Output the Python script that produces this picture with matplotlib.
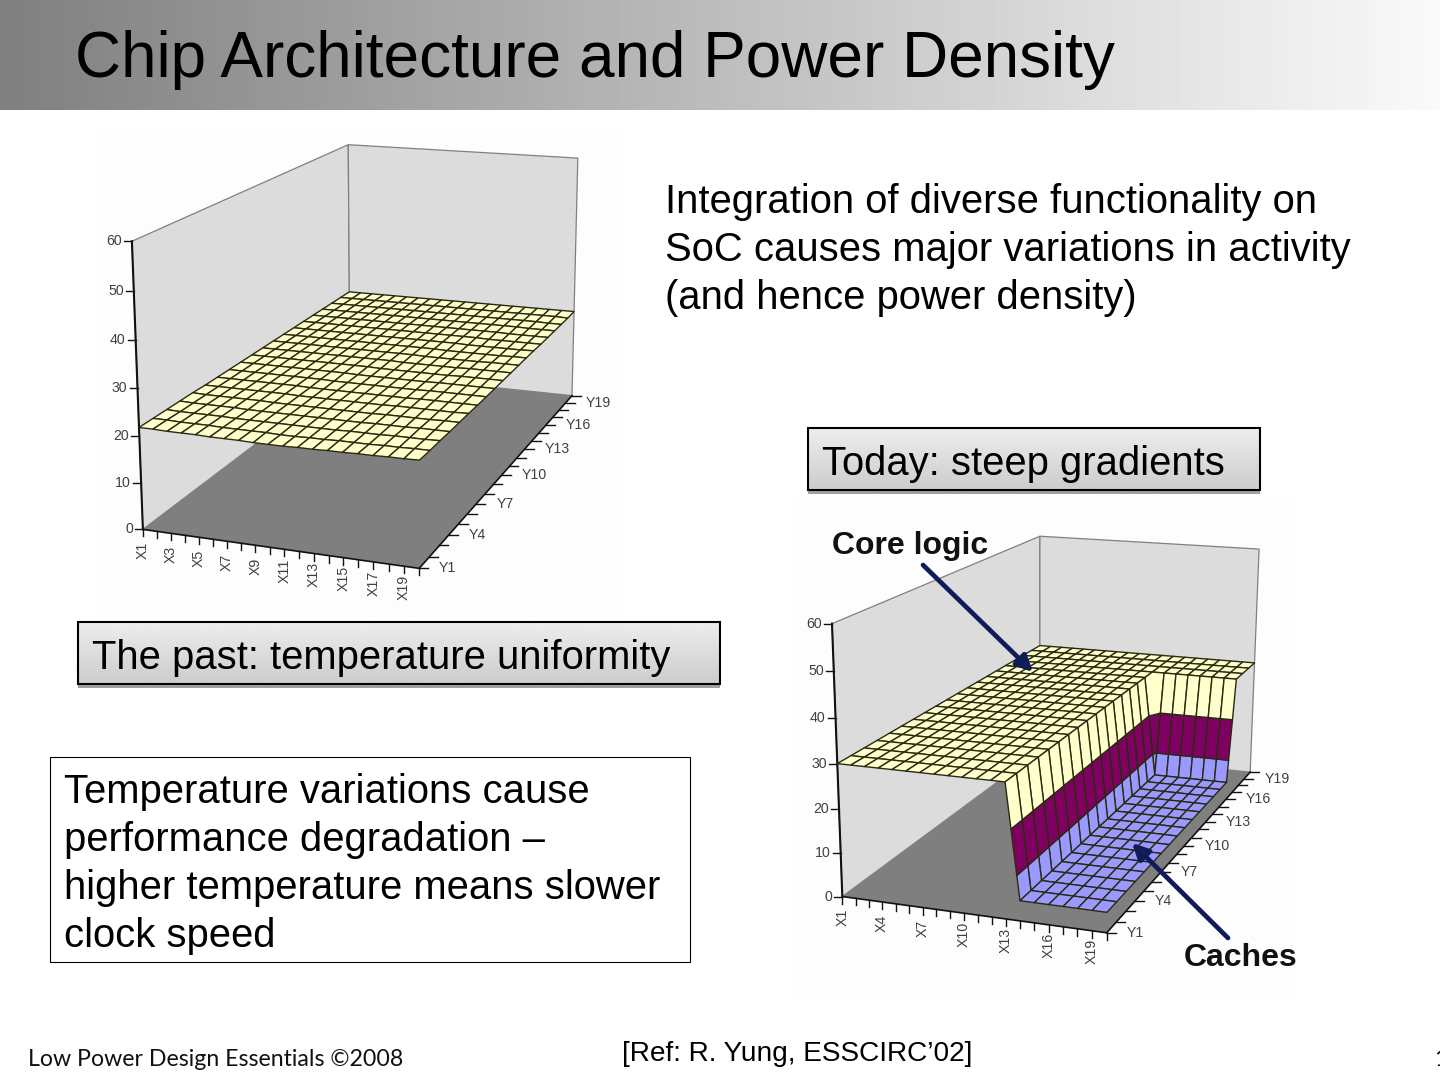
import numpy as np
import matplotlib
matplotlib.use('Agg')
from matplotlib import pyplot as plt
from matplotlib.collections import PolyCollection
from matplotlib.patches import FancyArrowPatch, Rectangle

plt.rcParams['font.family'] = ['Liberation Sans', 'DejaVu Sans']

# surface heights, one row per Y1..Y20, X1..X20 across
past_z = [
    [21.8, 21.8, 21.7, 21.7, 21.7, 21.6, 21.6, 21.6, 21.5, 21.5, 21.5, 21.6, 21.6, 21.7, 21.7, 21.8, 21.8, 21.9, 21.9, 22.0],
    [21.8, 21.8, 21.7, 21.7, 21.7, 21.6, 21.6, 21.6, 21.6, 21.5, 21.5, 21.6, 21.6, 21.7, 21.7, 21.7, 21.8, 21.8, 21.9, 21.9],
    [21.8, 21.7, 21.7, 21.7, 21.7, 21.6, 21.6, 21.6, 21.6, 21.6, 21.6, 21.6, 21.6, 21.7, 21.7, 21.7, 21.8, 21.8, 21.8, 21.9],
    [21.8, 21.7, 21.7, 21.7, 21.7, 21.6, 21.6, 21.6, 21.6, 21.6, 21.6, 21.6, 21.6, 21.6, 21.7, 21.7, 21.7, 21.8, 21.8, 21.8],
    [21.8, 21.7, 21.7, 21.7, 21.7, 21.7, 21.6, 21.6, 21.6, 21.6, 21.6, 21.6, 21.6, 21.6, 21.7, 21.7, 21.7, 21.7, 21.8, 21.8],
    [21.7, 21.7, 21.7, 21.7, 21.7, 21.7, 21.7, 21.6, 21.6, 21.6, 21.6, 21.6, 21.6, 21.6, 21.7, 21.7, 21.7, 21.7, 21.7, 21.8],
    [21.7, 21.7, 21.7, 21.7, 21.7, 21.7, 21.7, 21.6, 21.6, 21.6, 21.6, 21.6, 21.6, 21.6, 21.6, 21.7, 21.7, 21.7, 21.7, 21.7],
    [21.7, 21.7, 21.7, 21.7, 21.7, 21.7, 21.7, 21.7, 21.6, 21.6, 21.6, 21.6, 21.6, 21.6, 21.6, 21.7, 21.7, 21.7, 21.7, 21.7],
    [21.7, 21.7, 21.7, 21.7, 21.7, 21.7, 21.7, 21.7, 21.7, 21.6, 21.6, 21.6, 21.6, 21.6, 21.6, 21.7, 21.7, 21.7, 21.7, 21.7],
    [21.7, 21.7, 21.7, 21.7, 21.7, 21.7, 21.7, 21.7, 21.7, 21.7, 21.6, 21.6, 21.6, 21.6, 21.6, 21.6, 21.7, 21.7, 21.7, 21.7],
    [21.7, 21.7, 21.7, 21.7, 21.7, 21.7, 21.7, 21.7, 21.7, 21.7, 21.7, 21.6, 21.6, 21.6, 21.6, 21.6, 21.7, 21.7, 21.7, 21.7],
    [21.7, 21.7, 21.7, 21.7, 21.7, 21.7, 21.7, 21.7, 21.7, 21.7, 21.7, 21.7, 21.6, 21.6, 21.6, 21.6, 21.6, 21.7, 21.7, 21.7],
    [21.7, 21.7, 21.7, 21.7, 21.7, 21.7, 21.7, 21.7, 21.7, 21.7, 21.7, 21.7, 21.7, 21.6, 21.6, 21.6, 21.6, 21.6, 21.7, 21.7],
    [21.7, 21.7, 21.7, 21.7, 21.7, 21.7, 21.7, 21.7, 21.7, 21.7, 21.7, 21.7, 21.7, 21.7, 21.6, 21.6, 21.6, 21.6, 21.6, 21.7],
    [21.7, 21.7, 21.7, 21.7, 21.7, 21.7, 21.7, 21.7, 21.7, 21.7, 21.7, 21.7, 21.7, 21.7, 21.7, 21.6, 21.6, 21.6, 21.6, 21.6],
    [21.7, 21.7, 21.7, 21.7, 21.7, 21.7, 21.7, 21.7, 21.7, 21.7, 21.7, 21.7, 21.7, 21.7, 21.7, 21.7, 21.6, 21.6, 21.6, 21.6],
    [21.7, 21.7, 21.7, 21.7, 21.7, 21.7, 21.7, 21.7, 21.7, 21.7, 21.7, 21.7, 21.7, 21.7, 21.7, 21.7, 21.7, 21.6, 21.6, 21.6],
    [21.7, 21.7, 21.7, 21.7, 21.7, 21.7, 21.7, 21.7, 21.7, 21.7, 21.7, 21.7, 21.7, 21.7, 21.7, 21.7, 21.7, 21.7, 21.6, 21.6],
    [21.7, 21.7, 21.7, 21.7, 21.7, 21.7, 21.7, 21.7, 21.7, 21.7, 21.7, 21.7, 21.7, 21.7, 21.7, 21.7, 21.7, 21.7, 21.7, 21.6],
    [21.7, 21.7, 21.7, 21.7, 21.7, 21.7, 21.7, 21.7, 21.7, 21.7, 21.7, 21.7, 21.7, 21.7, 21.7, 21.7, 21.7, 21.7, 21.7, 21.7],
]
low = 4.5
high = 30.0
today_z = [
    [high] * 13 + [low] * 7 for row in range(16)
] + [
    [high] * 20 for row in range(4)
]

past_x_labels = ['X1', 'X3', 'X5', 'X7', 'X9', 'X11', 'X13', 'X15', 'X17', 'X19']
today_x_labels = ['X1', 'X4', 'X7', 'X10', 'X13', 'X16', 'X19']
y_labels = ['Y1', 'Y4', 'Y7', 'Y10', 'Y13', 'Y16', 'Y19']
z_ticks = [0, 10, 20, 30, 40, 50, 60]
band_edges = [0, 10, 20, 60]
band_colors = ['#9999FF', '#7F0060', '#FFFFCC']

title = 'Chip Architecture and Power Density'
intro_lines = ['Integration of diverse functionality on',
               'SoC causes major variations in activity',
               '(and hence power density)']
note_lines = ['Temperature variations cause',
              'performance degradation \u2013',
              'higher temperature means slower',
              'clock speed']


def fit_camera(points):
    # projective fit from cube corners (x, y, z in 0..1) to pixels
    a, b = [], []
    for (x, y, z), (u, v) in points:
        a.append([x, y, z, 1, 0, 0, 0, 0, -u * x, -u * y, -u * z])
        a.append([0, 0, 0, 0, x, y, z, 1, -v * x, -v * y, -v * z])
        b += [u, v]
    a = np.array(a, dtype=float)
    b = np.array(b, dtype=float)
    # constant term of the denominator is fixed at 1
    m = np.linalg.lstsq(a, b, rcond=None)[0]
    return np.append(m, 1.0).reshape(3, 4)


def project(cam, x, y, z):
    h = cam @ np.array([x, y, z, 1.0])
    return h[0] / h[2], h[1] / h[2]


def clip_band(poly, lo, hi):
    # cut a polygon of (x, y, z) points down to lo <= z <= hi
    for limit, sign in ((lo, 1), (hi, -1)):
        out = []
        for k in range(len(poly)):
            p, q = np.array(poly[k]), np.array(poly[(k + 1) % len(poly)])
            dp, dq = sign * (p[2] - limit), sign * (q[2] - limit)
            if dp >= 0:
                out.append(p)
            if dp * dq < 0:
                out.append(p + (q - p) * dp / (dp - dq))
        poly = out
        if not poly:
            break
    return poly


def draw_chart(ax, cam, z_rows, x_labels, x_step):
    z = np.array(z_rows, dtype=float) / 60.0
    ny, nx = z.shape
    gx = np.arange(nx) / (nx - 1)
    gy = np.arange(ny) / (ny - 1)

    walls = [[(0, 0, 0), (0, 1, 0), (0, 1, 1), (0, 0, 1)],
             [(0, 1, 0), (1, 1, 0), (1, 1, 1), (0, 1, 1)]]
    floor = [(0, 0, 0), (1, 0, 0), (1, 1, 0), (0, 1, 0)]
    for w in walls:
        ax.add_patch(plt.Polygon([project(cam, *p) for p in w], fc='#DCDCDC', ec='#808080', lw=0.9))
    ax.add_patch(plt.Polygon([project(cam, *p) for p in floor], fc='#7F7F7F', ec='none'))

    # axes and ticks
    ax.plot(*zip(project(cam, 0, 0, 0), project(cam, 0, 0, 1)), color='#111111', lw=1.5)
    ax.plot(*zip(project(cam, 0, 0, 0), project(cam, 1, 0, 0)), color='#111111', lw=1.2)
    ax.plot(*zip(project(cam, 1, 0, 0), project(cam, 1, 1, 0)), color='#111111', lw=1.2)
    for t in z_ticks:
        u, v = project(cam, 0, 0, t / 60.0)
        ax.plot([u - 8, u], [v, v], color='#111111', lw=1.0)
        ax.text(u - 10, v, str(t), ha='right', va='center', fontsize=10.2, color='#404040')
    for i in range(nx):
        u, v = project(cam, gx[i], 0, 0)
        ax.plot([u, u], [v, v + 7], color='#111111', lw=1.0)
        if i % x_step == 0 and i // x_step < len(x_labels):
            ax.text(u, v + 21, x_labels[i // x_step], rotation=90, ha='center', va='center',
                    fontsize=10.2, color='#404040')
    for j in range(ny):
        u, v = project(cam, 1, gy[j], 0)
        ax.plot([u, u + 9], [v, v], color='#111111', lw=1.0)
        if j % 3 == 0 and j // 3 < len(y_labels):
            ax.text(u + 20, v, y_labels[j // 3], ha='left', va='center', fontsize=10.2, color='#404040')

    # back rows first, left columns first, so nearer cells cover farther ones
    polys, colors = [], []
    for j in range(ny - 2, -1, -1):
        for i in range(nx - 1):
            quad = [(gx[i], gy[j], z[j, i]), (gx[i + 1], gy[j], z[j, i + 1]),
                    (gx[i + 1], gy[j + 1], z[j + 1, i + 1]), (gx[i], gy[j + 1], z[j + 1, i])]
            for b, color in enumerate(band_colors):
                piece = clip_band(quad, band_edges[b] / 60.0, band_edges[b + 1] / 60.0)
                if len(piece) >= 3:
                    polys.append([project(cam, *p) for p in piece])
                    colors.append(color)
    ax.add_collection(PolyCollection(polys, facecolors=colors, edgecolors='#2A2A10',
                                     linewidths=1.0, zorder=3))


def gradient_box(ax, x0, y0, x1, y1):
    ax.add_patch(Rectangle((x0, y0 + 4), x1 - x0, y1 - y0, fc='#A0A0A0', ec='none', zorder=4))
    ax.imshow(np.linspace(0.93, 0.80, 64).reshape(-1, 1), cmap='gray', vmin=0, vmax=1, aspect='auto',
              extent=(x0, x1, y1, y0), zorder=5)
    ax.add_patch(Rectangle((x0, y0), x1 - x0, y1 - y0, fc='none', ec='black', lw=1.5, zorder=6))


fig = plt.figure(figsize=(14.4, 10.8), dpi=100)
ax = fig.add_axes([0, 0, 1, 1])

# title band
ax.imshow(np.linspace(0.5, 0.98, 256).reshape(1, -1), cmap='gray', vmin=0, vmax=1, aspect='auto',
          extent=(0, 1440, 110, 0))
ax.text(75, 77, title, fontsize=46, color='black', zorder=7)

# left chart
ax.add_patch(Rectangle((102, 127), 516, 490, fc='#FDFDFD', ec='none'))
past_cam = fit_camera([((0, 0, 0), (143, 530)), ((1, 0, 0), (419, 568)), ((1, 1, 0), (572, 396)),
                       ((0, 1, 0), (350, 372)), ((0, 0, 1), (132, 241)), ((0, 1, 1), (348, 145)),
                       ((1, 1, 1), (578, 158))])
draw_chart(ax, past_cam, past_z, past_x_labels, 2)

# right chart
ax.add_patch(Rectangle((792, 502), 504, 498, fc='#FDFDFD', ec='none'))
today_cam = fit_camera([((0, 0, 0), (842, 896)), ((1, 0, 0), (1107, 933)), ((1, 1, 0), (1250, 772)),
                        ((0, 1, 0), (1040, 751)), ((0, 0, 1), (832, 624)), ((0, 1, 1), (1040, 536)),
                        ((1, 1, 1), (1259, 549))])
draw_chart(ax, today_cam, today_z, today_x_labels, 3)

for x, y, tip in ((923, 565, (1033, 672)), (1228, 938, (1132, 843))):
    ax.add_patch(FancyArrowPatch((x, y), tip, arrowstyle='-|>', mutation_scale=24, color='#101C58',
                                 lw=3.4, shrinkA=0, shrinkB=0, zorder=7))
ax.text(832, 554, 'Core logic', fontsize=23, fontweight='bold', color='#111111', zorder=7)
ax.text(1184, 966, 'Caches', fontsize=23, fontweight='bold', color='#111111', zorder=7)

# text blocks
for k, line in enumerate(intro_lines):
    ax.text(665, 213 + 48 * k, line, fontsize=28.8, color='black')

gradient_box(ax, 808, 428, 1260, 490)
ax.text(822, 475, 'Today: steep gradients', fontsize=28.8, color='black', zorder=7)
gradient_box(ax, 78, 622, 720, 684)
ax.text(92.5, 669, 'The past: temperature uniformity', fontsize=28.8, color='black', zorder=7)

ax.add_patch(Rectangle((50, 757), 640, 205, fc='white', ec='black', lw=0.8))
for k, line in enumerate(note_lines):
    ax.text(64, 803 + 48 * k, line, fontsize=28.8, color='black')

ax.text(28, 1066, 'Low Power Design Essentials \u00a92008', fontsize=16.7, family='Lato', color='#111111')
ax.text(622, 1061, '[Ref: R. Yung, ESSCIRC\u201902]', fontsize=20.15, color='black')
ax.text(1434, 1066, '1', fontsize=16.7, family='Lato', color='#111111', clip_on=True)

ax.set_xlim(0, 1440)
ax.set_ylim(1080, 0)
ax.axis('off')
fig.savefig('out.png', dpi=100)
